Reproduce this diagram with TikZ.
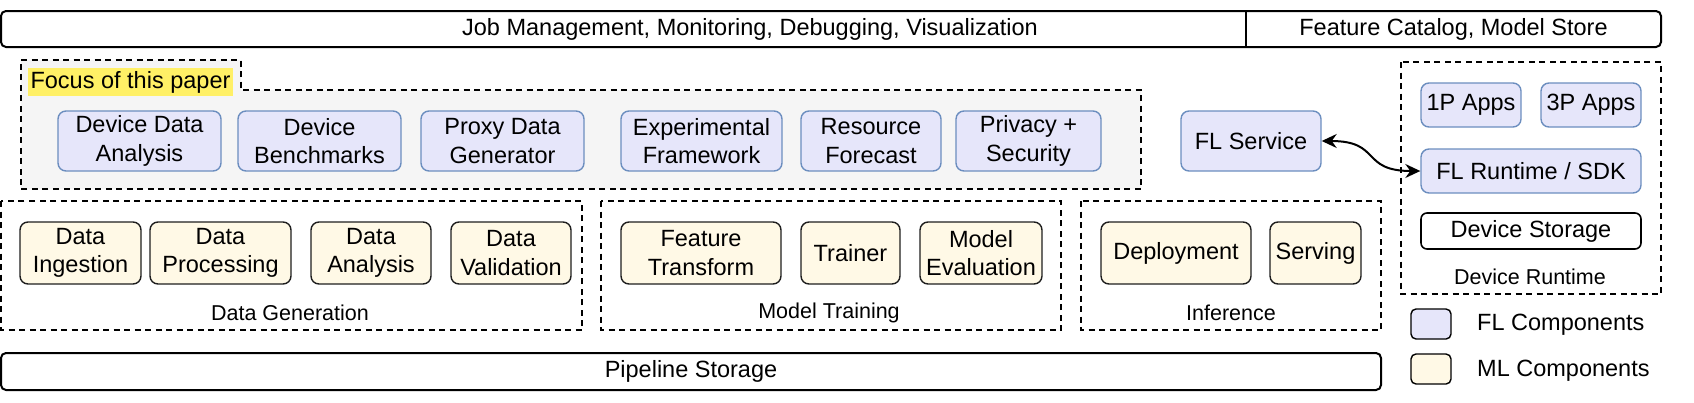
\documentclass[tikz,border=0pt]{standalone}
\usepackage{fontspec}
\setmainfont{Liberation Sans}
\usetikzlibrary{arrows.meta}
\definecolor{flfill}{RGB}{230,230,250}
\definecolor{flstroke}{RGB}{108,142,191}
\definecolor{mlfill}{RGB}{255,249,230}
\definecolor{mlstroke}{RGB}{30,30,30}
\definecolor{grayfill}{RGB}{245,245,245}
\definecolor{hlyellow}{RGB}{255,240,102}
\tikzset{
  txt/.style={font=\fontsize{23.5}{28.5}\selectfont, align=center, inner sep=2pt},
  lbl/.style={font=\fontsize{21.5}{26}\selectfont, inner sep=1pt},
  flbox/.style={txt, draw=flstroke, fill=flfill, line width=1.4pt, rounded corners=8pt},
  mlbox/.style={txt, draw=mlstroke, fill=mlfill, line width=1.4pt, rounded corners=8pt},
  plainbox/.style={txt, draw=black, fill=white, line width=1.6pt, rounded corners=6pt},
  bar/.style={txt, draw=black, fill=white, line width=2pt, rounded corners=5pt},
  group/.style={draw=black, dash pattern=on 6pt off 4.5pt, line width=1.7pt},
  legsq/.style={draw=black, line width=1.4pt, rounded corners=5pt, minimum width=40pt, minimum height=30pt, inner sep=0pt},
  biarrow/.style={line width=2pt, {Stealth[length=15pt,width=14pt,inset=5pt]}-{Stealth[length=15pt,width=14pt,inset=5pt]}}
}
\begin{document}
\begin{tikzpicture}[x=1pt,y=-1pt]
\useasboundingbox (0,0) rectangle (1694,402);

% top bar
\node[bar, minimum width=1660pt, minimum height=36pt] (topbar) at (831,29) {};
\node[txt] (job) at (750,29) {Job Management, Monitoring, Debugging, Visualization};
\node[txt, minimum width=415pt, minimum height=36pt] (feat) at (1453.5,29) {Feature Catalog, Model Store};
\draw[line width=1.6pt] (feat.north west) -- (feat.south west);

% focus region
\draw[group, fill=grayfill] (21,60) -- (241,60) -- (241,90) -- (1141,90) -- (1141,189) -- (21,189) -- cycle;
\node[txt, fill=hlyellow, minimum width=205pt, minimum height=28pt, inner sep=0pt] (focus) at (130.5,82) {Focus of this paper};

% FL components
\node[flbox, minimum width=163pt, minimum height=60pt] (dda) at (139.5,141) {Device Data\\Analysis};
\node[flbox, minimum width=163pt, minimum height=60pt] (dbm) at (319.5,141) {Device\\Benchmarks};
\node[flbox, minimum width=163pt, minimum height=60pt] (pdg) at (502.5,141) {Proxy Data\\Generator};
\node[flbox, minimum width=161pt, minimum height=60pt] (exf) at (701.5,141) {Experimental\\Framework};
\node[flbox, minimum width=140pt, minimum height=60pt] (rfc) at (871,141) {Resource\\Forecast};
\node[flbox, minimum width=145pt, minimum height=60pt] (pse) at (1028.5,141) {Privacy +\\Security};
\node[flbox, minimum width=140pt, minimum height=60pt] (fls) at (1251,141) {FL Service};

% device runtime
\draw[group] (1401,62) rectangle (1661,294);
\node[flbox, minimum width=100pt, minimum height=44pt] (app1) at (1471,105) {1P Apps};
\node[flbox, minimum width=100pt, minimum height=44pt] (app3) at (1591,105) {3P Apps};
\node[flbox, minimum width=220pt, minimum height=44pt] (flr) at (1531,171) {FL Runtime / SDK};
\node[plainbox, minimum width=220pt, minimum height=36pt] (dst) at (1531,231) {Device Storage};
\node[lbl] (drt) at (1530,277) {Device Runtime};

\draw[biarrow] (fls.east) .. controls +(60,0) and +(-60,0) .. (flr.west);

% groups row 2
\draw[group] (1,201) rectangle (582,330);
\draw[group] (601,201) rectangle (1061,330);
\draw[group] (1081,201) rectangle (1381,330);

\node[mlbox, minimum width=121pt, minimum height=62pt] (ding) at (80.5,253) {Data\\Ingestion};
\node[mlbox, minimum width=141pt, minimum height=62pt] (dproc) at (220.5,253) {Data\\Processing};
\node[mlbox, minimum width=120pt, minimum height=62pt] (dana) at (371,253) {Data\\Analysis};
\node[mlbox, minimum width=120pt, minimum height=62pt] (dval) at (511,253) {Data\\Validation};
\node[mlbox, minimum width=160pt, minimum height=62pt] (ftr) at (701,253) {Feature\\Transform};
\node[mlbox, minimum width=99pt, minimum height=62pt] (trn) at (850.5,253) {Trainer};
\node[mlbox, minimum width=122pt, minimum height=62pt] (mev) at (981,253) {Model\\Evaluation};
\node[mlbox, minimum width=150pt, minimum height=62pt] (dep) at (1176,253) {Deployment};
\node[mlbox, minimum width=91pt, minimum height=62pt] (srv) at (1315.5,253) {Serving};

\node[lbl] (dgenl) at (290,313) {Data Generation};
\node[lbl] (mtrl) at (829,313) {Model Training};
\node[lbl] (infl) at (1231,313) {Inference};

% pipeline storage
\node[bar, minimum width=1380pt, minimum height=37pt] (pipe) at (691,371.5) {Pipeline Storage};

% legend
\node[legsq, fill=flfill] (legfl) at (1431,324) {};
\node[legsq, fill=mlfill] (legml) at (1431,369) {};
\node[txt, anchor=west, inner sep=0pt] (legflt) at (1477,325) {FL Components};
\node[txt, anchor=west, inner sep=0pt] (legmlt) at (1477,371) {ML Components};
\end{tikzpicture}
\end{document}
